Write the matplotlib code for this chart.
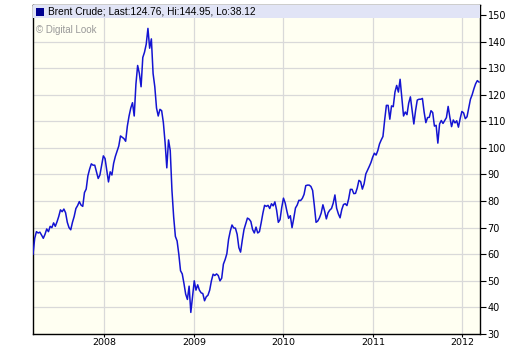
import numpy as np
import pandas as pd
import matplotlib
matplotlib.use("Agg")
import matplotlib.pyplot as plt
from matplotlib.patches import Rectangle

# weekly Brent closes (Fridays, mid-March 2007 -> March 2012)
start = "2007-03-16"
prices = [
    60.0, 66.0, 68.5, 68.0, 68.3, 67.2, 66.0, 67.5, 69.5, 68.5,
    70.5, 70.0, 71.8, 70.5, 72.2, 74.2, 76.7, 76.0, 77.0, 75.6,
    72.0, 70.0, 69.2, 72.0, 74.2, 77.2, 78.3, 79.8, 78.5, 78.0,
    83.2, 84.5, 89.5, 92.0, 94.0, 93.5, 93.5, 91.0, 88.5, 89.8,
    93.5, 97.0, 96.0, 91.5, 87.2, 91.0, 89.8, 94.2, 96.8, 98.7,
    100.7, 104.5, 104.0, 103.5, 102.5, 108.2, 112.0, 115.0, 117.0, 112.0,
    124.0, 131.0, 128.0, 123.0, 134.0, 136.0, 139.0, 144.95, 137.5, 141.0,
    128.0, 123.0, 115.0, 112.0, 114.5, 114.0, 109.5, 102.0, 92.5, 103.0,
    99.0, 84.0, 74.0, 66.7, 65.0, 60.0, 53.8, 52.6, 49.0, 45.0,
    43.0, 48.0, 38.12, 44.0, 50.0, 46.5, 48.5, 46.5, 45.5, 45.2,
    42.5, 44.0, 44.6, 46.5, 50.0, 52.5, 52.0, 52.6, 52.0, 50.0,
    51.0, 56.3, 58.0, 60.2, 65.6, 68.7, 71.0, 69.9, 69.8, 67.5,
    62.5, 60.8, 65.3, 69.3, 71.5, 73.6, 73.2, 72.3, 69.3, 68.0,
    70.2, 68.0, 68.5, 71.8, 75.4, 78.4, 78.0, 78.4, 77.2, 79.0,
    78.2, 79.7, 76.6, 72.0, 73.0, 77.6, 81.1, 79.3, 76.2, 73.5,
    74.5, 70.0, 73.5, 77.4, 78.5, 80.3, 80.2, 81.0, 82.5, 85.8,
    86.0, 86.0, 85.5, 84.0, 78.3, 72.0, 72.5, 73.7, 75.5, 78.6,
    76.2, 73.3, 75.6, 76.6, 77.2, 79.2, 82.3, 77.3, 75.2, 73.7,
    76.8, 78.7, 79.0, 78.3, 80.8, 84.4, 84.4, 82.8, 82.9, 84.9,
    87.8, 87.3, 84.5, 86.5, 90.2, 91.6, 93.0, 94.5, 96.5, 98.0,
    97.3, 99.0, 101.5, 103.0, 104.3, 110.5, 116.0, 116.0, 110.8, 115.8,
    115.5, 121.0, 123.5, 121.0, 125.8, 119.0, 112.0, 113.5, 112.5, 116.8,
    119.2, 114.2, 109.0, 114.0, 118.0, 118.3, 118.3, 118.6, 113.5, 109.5,
    111.4, 111.5, 114.0, 113.3, 108.2, 108.5, 101.8, 109.0, 110.3, 109.2,
    110.3, 111.4, 115.6, 111.5, 108.0, 110.5, 109.4, 110.2, 107.8, 111.0,
    113.7, 113.2, 111.0, 111.7, 115.0, 118.3, 120.0, 122.2, 124.1, 125.3,
    124.76,
]
dates = pd.date_range(start, periods=len(prices), freq="7D")
yticks = list(range(30, 151, 10))
years = ["2008", "2009", "2010", "2011", "2012"]
title = "Brent Crude; Last:124.76, Hi:144.95, Lo:38.12"

fig = plt.figure(figsize=(5.1, 3.5), dpi=100)
fig.patch.set_facecolor("white")
ax = fig.add_axes([33 / 510, 16 / 350, 447 / 510, 329 / 350])
ax.set_facecolor("#fffff2")

ax.plot(dates, prices, color="#1414d2", lw=1.1, zorder=3)

ax.set_ylim(30, 153.75)
ax.set_xlim(dates[0], dates[-1] + pd.Timedelta(days=4))
ax.set_yticks(yticks)
ax.set_xticks(pd.to_datetime([y + "-01-01" for y in years]))
ax.set_xticklabels(years)
ax.yaxis.tick_right()
ax.tick_params(axis="y", labelsize=7, length=4, width=0.8, colors="black", pad=1.5)
ax.tick_params(axis="x", labelsize=6.8, length=2.5, width=0.8, colors="black", pad=0.5)
ax.grid(True, color="#d9d9d9", lw=0.9, zorder=0)
ax.set_axisbelow(True)
for s in ax.spines.values():
    s.set_color("black")
    s.set_linewidth(1.0)

# header band with series label
ax.add_patch(Rectangle((0, 1 - 13 / 329), 1, 13 / 329, transform=ax.transAxes,
                       facecolor="#e1e4f6", edgecolor="none", zorder=4))
ax.add_patch(Rectangle((3 / 447, 1 - 11 / 329), 8 / 447, 8 / 329, transform=ax.transAxes,
                       facecolor="#000090", edgecolor="none", zorder=5))
ax.text(15 / 447, 1 - 6.5 / 329, title, transform=ax.transAxes, fontsize=7.3,
        family="Liberation Sans", va="center", ha="left", zorder=6)
ax.text(3 / 447, 1 - 25 / 329, "\u00a9 Digital Look", transform=ax.transAxes, fontsize=7,
        family="Liberation Sans", color="#999999", va="center", ha="left", zorder=6)

fig.savefig("out.png", dpi=100)
